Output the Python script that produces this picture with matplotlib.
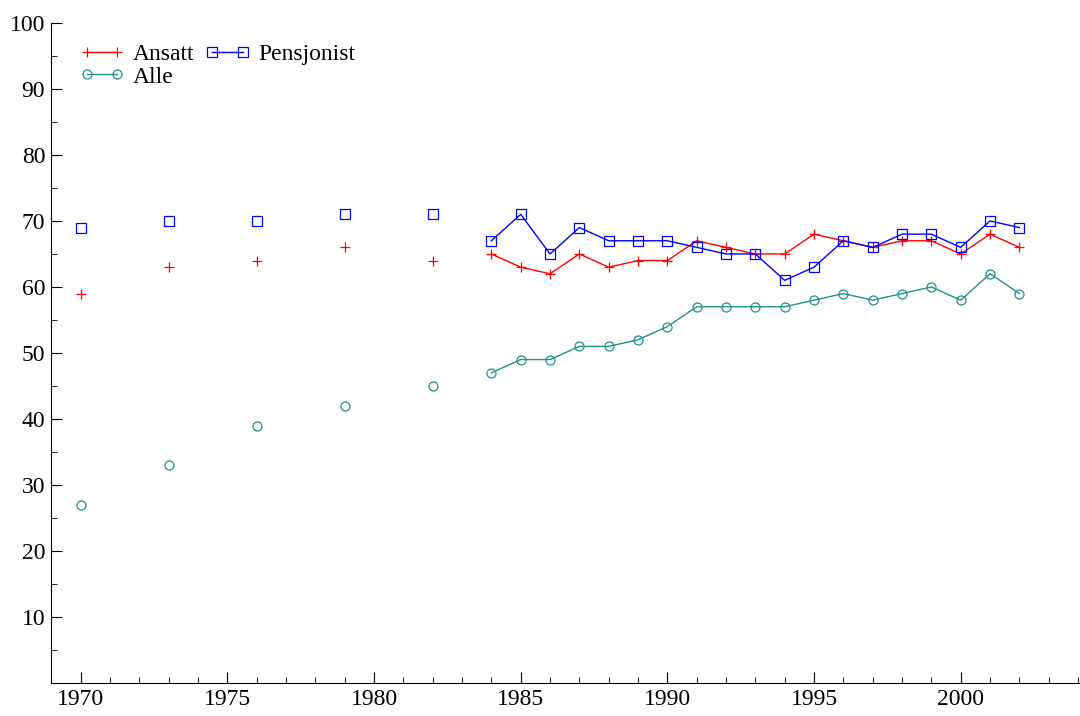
import numpy as np
import matplotlib
matplotlib.use('Agg')
import matplotlib.pyplot as plt
from matplotlib.ticker import MultipleLocator

plt.rcParams['font.family'] = ['Liberation Serif', 'DejaVu Serif']

years = [1970, 1973, 1976, 1979, 1982, 1984, 1985, 1986, 1987, 1988, 1989, 1990,
         1991, 1992, 1993, 1994, 1995, 1996, 1997, 1998, 1999, 2000, 2001, 2002]
ansatt = [59, 63, 64, 66, 64, 65, 63, 62, 65, 63, 64, 64,
          67, 66, 65, 65, 68, 67, 66, 67, 67, 65, 68, 66]
pensjonist = [69, 70, 70, 71, 71, 67, 71, 65, 69, 67, 67, 67,
              66, 65, 65, 61, 63, 67, 66, 68, 68, 66, 70, 69]
alle = [27, 33, 39, 42, 45, 47, 49, 49, 51, 51, 52, 54,
        57, 57, 57, 57, 58, 59, 58, 59, 60, 58, 62, 59]

# first five surveys are not joined by lines
n_sep = 5

fig = plt.figure(figsize=(10.8, 7.16), dpi=100)
ax = fig.add_axes([0.047, 0.046, 0.952, 0.922])

series = [('Ansatt', ansatt, 'red', '+', 'red'),
          ('Pensjonist', pensjonist, 'blue', 's', 'none'),
          ('Alle', alle, '#1f918c', 'o', 'none')]
x = np.array(years)
handles = {}
for name, vals, col, mk, fc in series:
    v = np.array(vals)
    ax.plot(x[:n_sep], v[:n_sep], ls='none', marker=mk, color=col,
            mfc=fc, ms=6.5, mew=0.9)
    h, = ax.plot(x[n_sep:], v[n_sep:], '-', marker=mk, color=col,
                 mfc=fc, ms=6.5, mew=0.9, lw=1.0, label=name)
    handles[name] = h

ax.set_xlim(1968.98, 2004.03)
ax.set_ylim(0, 100)
ax.xaxis.set_major_locator(MultipleLocator(5))
ax.xaxis.set_minor_locator(MultipleLocator(1))
ax.yaxis.set_major_locator(MultipleLocator(10))
ax.yaxis.set_minor_locator(MultipleLocator(5))
ax.set_yticks(range(10, 101, 10))
ax.spines['top'].set_visible(False)
ax.spines['right'].set_visible(False)
ax.tick_params(which='both', direction='in', labelsize=17, pad=4)
ax.tick_params(which='major', length=8)
ax.tick_params(which='minor', length=4)

ax.legend([handles['Ansatt'], handles['Alle'], handles['Pensjonist']],
          ['Ansatt', 'Alle', 'Pensjonist'], ncol=2, loc='upper left',
          bbox_to_anchor=(0.012, 0.994), frameon=False, numpoints=2,
          fontsize=17, handlelength=1.9, handletextpad=0.35,
          columnspacing=0.45, labelspacing=0.05, borderaxespad=0.3)

fig.savefig('out.png', dpi=100)
